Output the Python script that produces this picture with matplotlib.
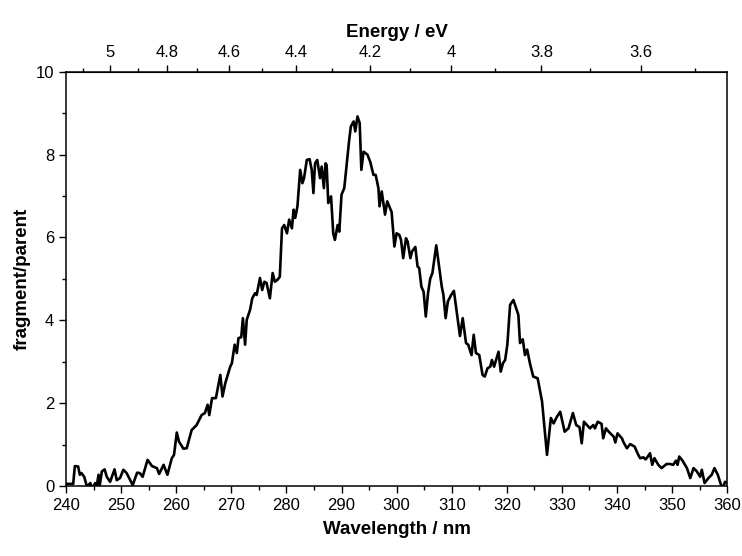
import numpy as np
import matplotlib
matplotlib.use("Agg")
import matplotlib.pyplot as plt
from matplotlib.ticker import MultipleLocator, FixedLocator, FormatStrFormatter

plt.rcParams['font.family'] = ['Liberation Sans', 'DejaVu Sans']

# spectrum
wavelength = [
    240.0, 241.3, 241.6, 242.2, 242.5, 242.8, 243.3, 243.8, 244.4, 244.8,
    245.3, 245.5, 245.9, 246.1, 246.5, 247.0, 247.4, 248.0, 248.8, 249.2,
    249.8, 250.4, 251.0, 252.1, 252.9, 253.4, 253.9, 254.8, 255.6, 256.5,
    256.9, 257.7, 258.4, 259.2, 259.6, 260.1, 260.5, 261.3, 261.9, 262.8,
    263.7, 264.6, 265.2, 265.7, 266.0, 266.5, 267.2, 268.0, 268.4, 268.9,
    269.8, 270.1, 270.6, 271.0, 271.3, 271.8, 272.1, 272.5, 272.8, 273.4,
    273.8, 274.3, 274.6, 275.2, 275.6, 276.0, 276.4, 277.0, 277.5, 277.9,
    278.4, 278.8, 279.2, 279.6, 280.1, 280.5, 281.0, 281.3, 281.6, 282.0,
    282.5, 282.9, 283.2, 283.7, 284.2, 284.6, 284.9, 285.2, 285.6, 286.1,
    286.4, 286.8, 287.1, 287.3, 287.6, 288.1, 288.5, 288.8, 289.3, 289.6,
    290.0, 290.5, 290.9, 291.4, 291.7, 292.2, 292.5, 292.9, 293.3, 293.6,
    294.0, 294.7, 295.2, 295.8, 296.2, 296.7, 296.9, 297.3, 297.9, 298.3,
    299.1, 299.6, 300.0, 300.5, 300.8, 301.2, 301.7, 302.0, 302.5, 302.8,
    303.4, 303.8, 304.1, 304.5, 304.9, 305.3, 305.7, 306.1, 306.5, 307.2,
    307.8, 308.2, 308.5, 308.9, 309.3, 309.9, 310.4, 310.9, 311.5, 312.0,
    312.6, 313.0, 313.6, 314.0, 314.4, 315.0, 315.6, 316.0, 316.5, 317.0,
    317.3, 317.7, 318.5, 318.9, 319.3, 319.7, 320.1, 320.6, 321.2, 322.1,
    322.4, 322.9, 323.3, 323.7, 324.2, 324.8, 325.6, 326.4, 327.3, 328.0,
    328.5, 329.1, 329.7, 330.5, 331.2, 332.0, 332.6, 333.2, 333.6, 334.0,
    335.1, 335.7, 336.0, 336.5, 337.2, 337.5, 338.0, 338.5, 339.4, 339.7,
    340.1, 340.9, 341.2, 341.8, 342.4, 343.2, 343.8, 344.2, 344.8, 345.2,
    345.6, 346.0, 346.4, 346.8, 347.5, 348.1, 349.0, 349.6, 350.2, 350.7,
    351.0, 351.3, 351.9, 352.7, 353.3, 353.9, 354.5, 355.1, 355.4, 355.9,
    356.6, 357.2, 357.7, 358.3, 358.9, 359.3, 359.6, 360.0,
]
ratio = [
    0.05, 0.05, 0.48, 0.47, 0.27, 0.31, 0.22, -0.02, 0.07, -0.06,
    0.07, -0.06, 0.27, 0.00, 0.35, 0.40, 0.22, 0.10, 0.40, 0.14,
    0.19, 0.39, 0.31, 0.02, 0.32, 0.31, 0.22, 0.63, 0.48, 0.43,
    0.29, 0.51, 0.27, 0.67, 0.75, 1.29, 1.07, 0.90, 0.91, 1.35,
    1.47, 1.71, 1.76, 1.96, 1.71, 2.12, 2.12, 2.68, 2.16, 2.48,
    2.88, 2.96, 3.41, 3.21, 3.57, 3.59, 4.05, 3.41, 4.01, 4.25,
    4.53, 4.65, 4.61, 5.02, 4.73, 4.93, 4.90, 4.53, 5.14, 4.93,
    4.98, 5.05, 6.22, 6.30, 6.10, 6.43, 6.22, 6.67, 6.47, 6.75,
    7.63, 7.31, 7.43, 7.87, 7.89, 7.63, 7.07, 7.79, 7.87, 7.43,
    7.71, 7.19, 7.79, 7.75, 6.83, 6.99, 6.10, 5.94, 6.30, 6.14,
    7.03, 7.19, 7.71, 8.36, 8.68, 8.80, 8.56, 8.92, 8.76, 7.63,
    8.07, 8.00, 7.83, 7.51, 7.51, 7.19, 6.75, 7.11, 6.55, 6.87,
    6.61, 5.78, 6.10, 6.06, 5.94, 5.50, 5.98, 5.90, 5.50, 5.66,
    5.77, 5.30, 5.26, 4.81, 4.69, 4.09, 4.65, 5.00, 5.14, 5.81,
    5.20, 4.81, 4.61, 4.05, 4.45, 4.61, 4.71, 4.21, 3.62, 4.05,
    3.45, 3.41, 3.16, 3.65, 3.21, 3.16, 2.68, 2.64, 2.84, 2.88,
    3.04, 2.88, 3.24, 2.76, 2.96, 3.04, 3.41, 4.37, 4.49, 4.13,
    3.45, 3.54, 3.16, 3.29, 2.96, 2.64, 2.60, 2.04, 0.75, 1.64,
    1.51, 1.67, 1.79, 1.31, 1.39, 1.76, 1.47, 1.42, 1.03, 1.55,
    1.39, 1.47, 1.39, 1.55, 1.50, 1.15, 1.39, 1.31, 1.19, 1.05,
    1.27, 1.15, 1.05, 0.91, 1.01, 0.95, 0.77, 0.67, 0.69, 0.64,
    0.71, 0.79, 0.51, 0.67, 0.51, 0.43, 0.53, 0.53, 0.51, 0.61,
    0.51, 0.71, 0.61, 0.43, 0.19, 0.43, 0.35, 0.22, 0.39, 0.07,
    0.19, 0.27, 0.43, 0.27, 0.02, -0.03, 0.10, 0.07,
]

energy_ticks = [5.0, 4.8, 4.6, 4.4, 4.2, 4.0, 3.8, 3.6]
energy_minor = [5.1, 4.9, 4.7, 4.5, 4.3, 4.1, 3.9, 3.7, 3.5]


def nm_to_ev(x):
    x = np.asarray(x, dtype=float)
    with np.errstate(divide='ignore'):
        return 1239.84 / x


fig = plt.figure(figsize=(7.42, 5.56), dpi=100)
ax = fig.add_axes([0.089, 0.126, 0.891, 0.745])

ax.plot(wavelength, ratio, color='black', linewidth=1.9)

ax.set_xlim(240, 360)
ax.set_ylim(0, 10)
ax.xaxis.set_major_locator(MultipleLocator(10))
ax.xaxis.set_minor_locator(MultipleLocator(5))
ax.yaxis.set_major_locator(MultipleLocator(2))
ax.yaxis.set_minor_locator(MultipleLocator(1))
ax.tick_params(which='both', direction='out', right=False, top=False, labelsize=12, width=1.0)
ax.tick_params(which='major', length=5)
ax.tick_params(which='minor', length=3)
for s in ax.spines.values():
    s.set_linewidth(1.1)

ax.set_xlabel('Wavelength / nm', fontsize=13.5, fontweight='bold', labelpad=6)
ax.set_ylabel('fragment/parent', fontsize=13.5, fontweight='bold', labelpad=4)

top = ax.secondary_xaxis('top', functions=(nm_to_ev, nm_to_ev))
top.xaxis.set_major_locator(FixedLocator(energy_ticks))
top.xaxis.set_minor_locator(FixedLocator(energy_minor))
top.xaxis.set_major_formatter(FormatStrFormatter('%g'))
top.tick_params(which='both', direction='out', labelsize=12, width=1.0)
top.tick_params(which='major', length=5)
top.tick_params(which='minor', length=3)
top.set_xlabel('Energy / eV', fontsize=13.5, fontweight='bold', labelpad=6)

fig.savefig('out.png', dpi=100)
